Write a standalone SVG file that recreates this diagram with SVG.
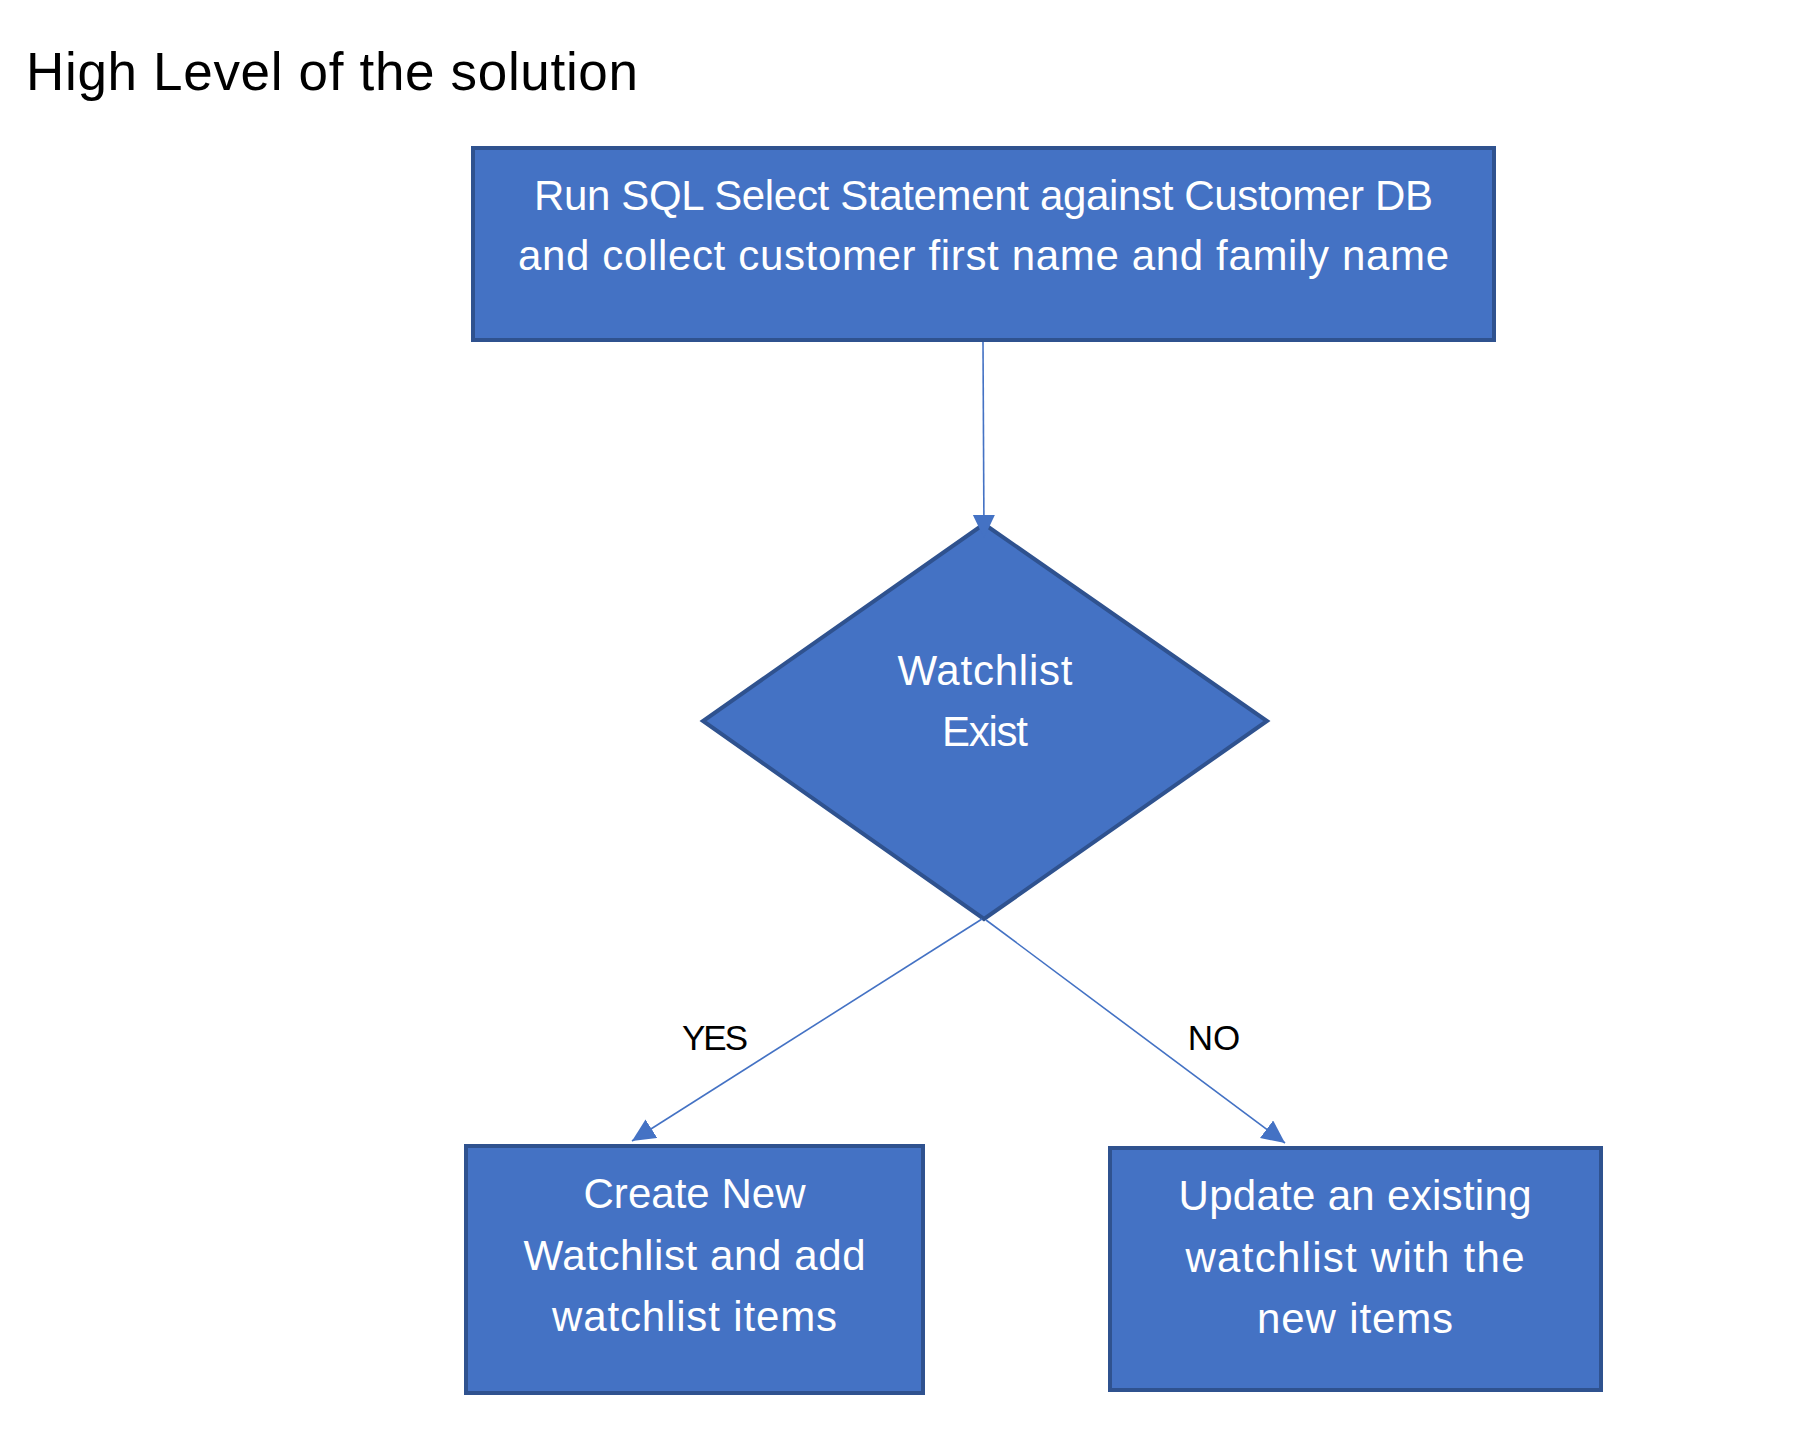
<svg xmlns="http://www.w3.org/2000/svg" width="1808" height="1438" viewBox="0 0 1808 1438">
  <style>
    .node { fill: #4472C4; stroke: #2F528F; stroke-width: 4; }
    .ntext { font-family: "Liberation Sans", Arial, sans-serif; font-size: 42px; fill: #FFFFFF; text-anchor: middle; }
    .label { font-family: "Liberation Sans", Arial, sans-serif; font-size: 35px; fill: #000000; text-anchor: middle; }
    .title { font-family: "Liberation Sans", Arial, sans-serif; font-size: 53px; fill: #000000; }
    .conn { stroke: #4472C4; stroke-width: 1.6; fill: none; marker-end: url(#arrow); }
  </style>
  <defs>
    <marker id="arrow" markerUnits="userSpaceOnUse" markerWidth="24" markerHeight="23" refX="23" refY="11" orient="auto" viewBox="0 0 24 23">
      <path d="M0,0 L23,11 L0,22 Z" fill="#4472C4"/>
    </marker>
  </defs>
  <rect width="1808" height="1438" fill="#FFFFFF"/>

  <text class="title" x="26" y="90" textLength="612" lengthAdjust="spacing">High Level of the solution</text>

  <g id="node-sql">
    <rect class="node" x="473" y="148" width="1021" height="192"/>
    <text class="ntext" x="983.5" y="210" textLength="899" lengthAdjust="spacing">Run SQL Select Statement against Customer DB</text>
    <text class="ntext" x="983.5" y="270" textLength="931" lengthAdjust="spacing">and collect customer first name and family name</text>
  </g>

  <g id="node-decision">
    <polygon class="node" points="984,524 1267,721 984,919 703,721"/>
    <text class="ntext" x="985" y="685" textLength="175" lengthAdjust="spacing">Watchlist</text>
    <text class="ntext" x="985" y="746" textLength="86" lengthAdjust="spacing">Exist</text>
  </g>

  <g id="node-create">
    <rect class="node" x="466" y="1146" width="457" height="247"/>
    <text class="ntext" x="694.5" y="1208" textLength="222" lengthAdjust="spacing">Create New</text>
    <text class="ntext" x="694.5" y="1270" textLength="342" lengthAdjust="spacing">Watchlist and add</text>
    <text class="ntext" x="694.5" y="1331" textLength="285" lengthAdjust="spacing">watchlist items</text>
  </g>

  <g id="node-update">
    <rect class="node" x="1110" y="1148" width="491" height="242"/>
    <text class="ntext" x="1355" y="1210" textLength="353" lengthAdjust="spacing">Update an existing</text>
    <text class="ntext" x="1355" y="1272" textLength="339" lengthAdjust="spacing">watchlist with the</text>
    <text class="ntext" x="1355" y="1333" textLength="196" lengthAdjust="spacing">new items</text>
  </g>

  <g id="connectors">
    <line class="conn" x1="983" y1="342" x2="984" y2="538"/>
    <line class="conn" x1="982" y1="919" x2="632" y2="1141"/>
    <line class="conn" x1="986" y1="920" x2="1285" y2="1143"/>
    <text class="label" x="715" y="1050" textLength="66" lengthAdjust="spacing">YES</text>
    <text class="label" x="1214" y="1050">NO</text>
  </g>
</svg>
